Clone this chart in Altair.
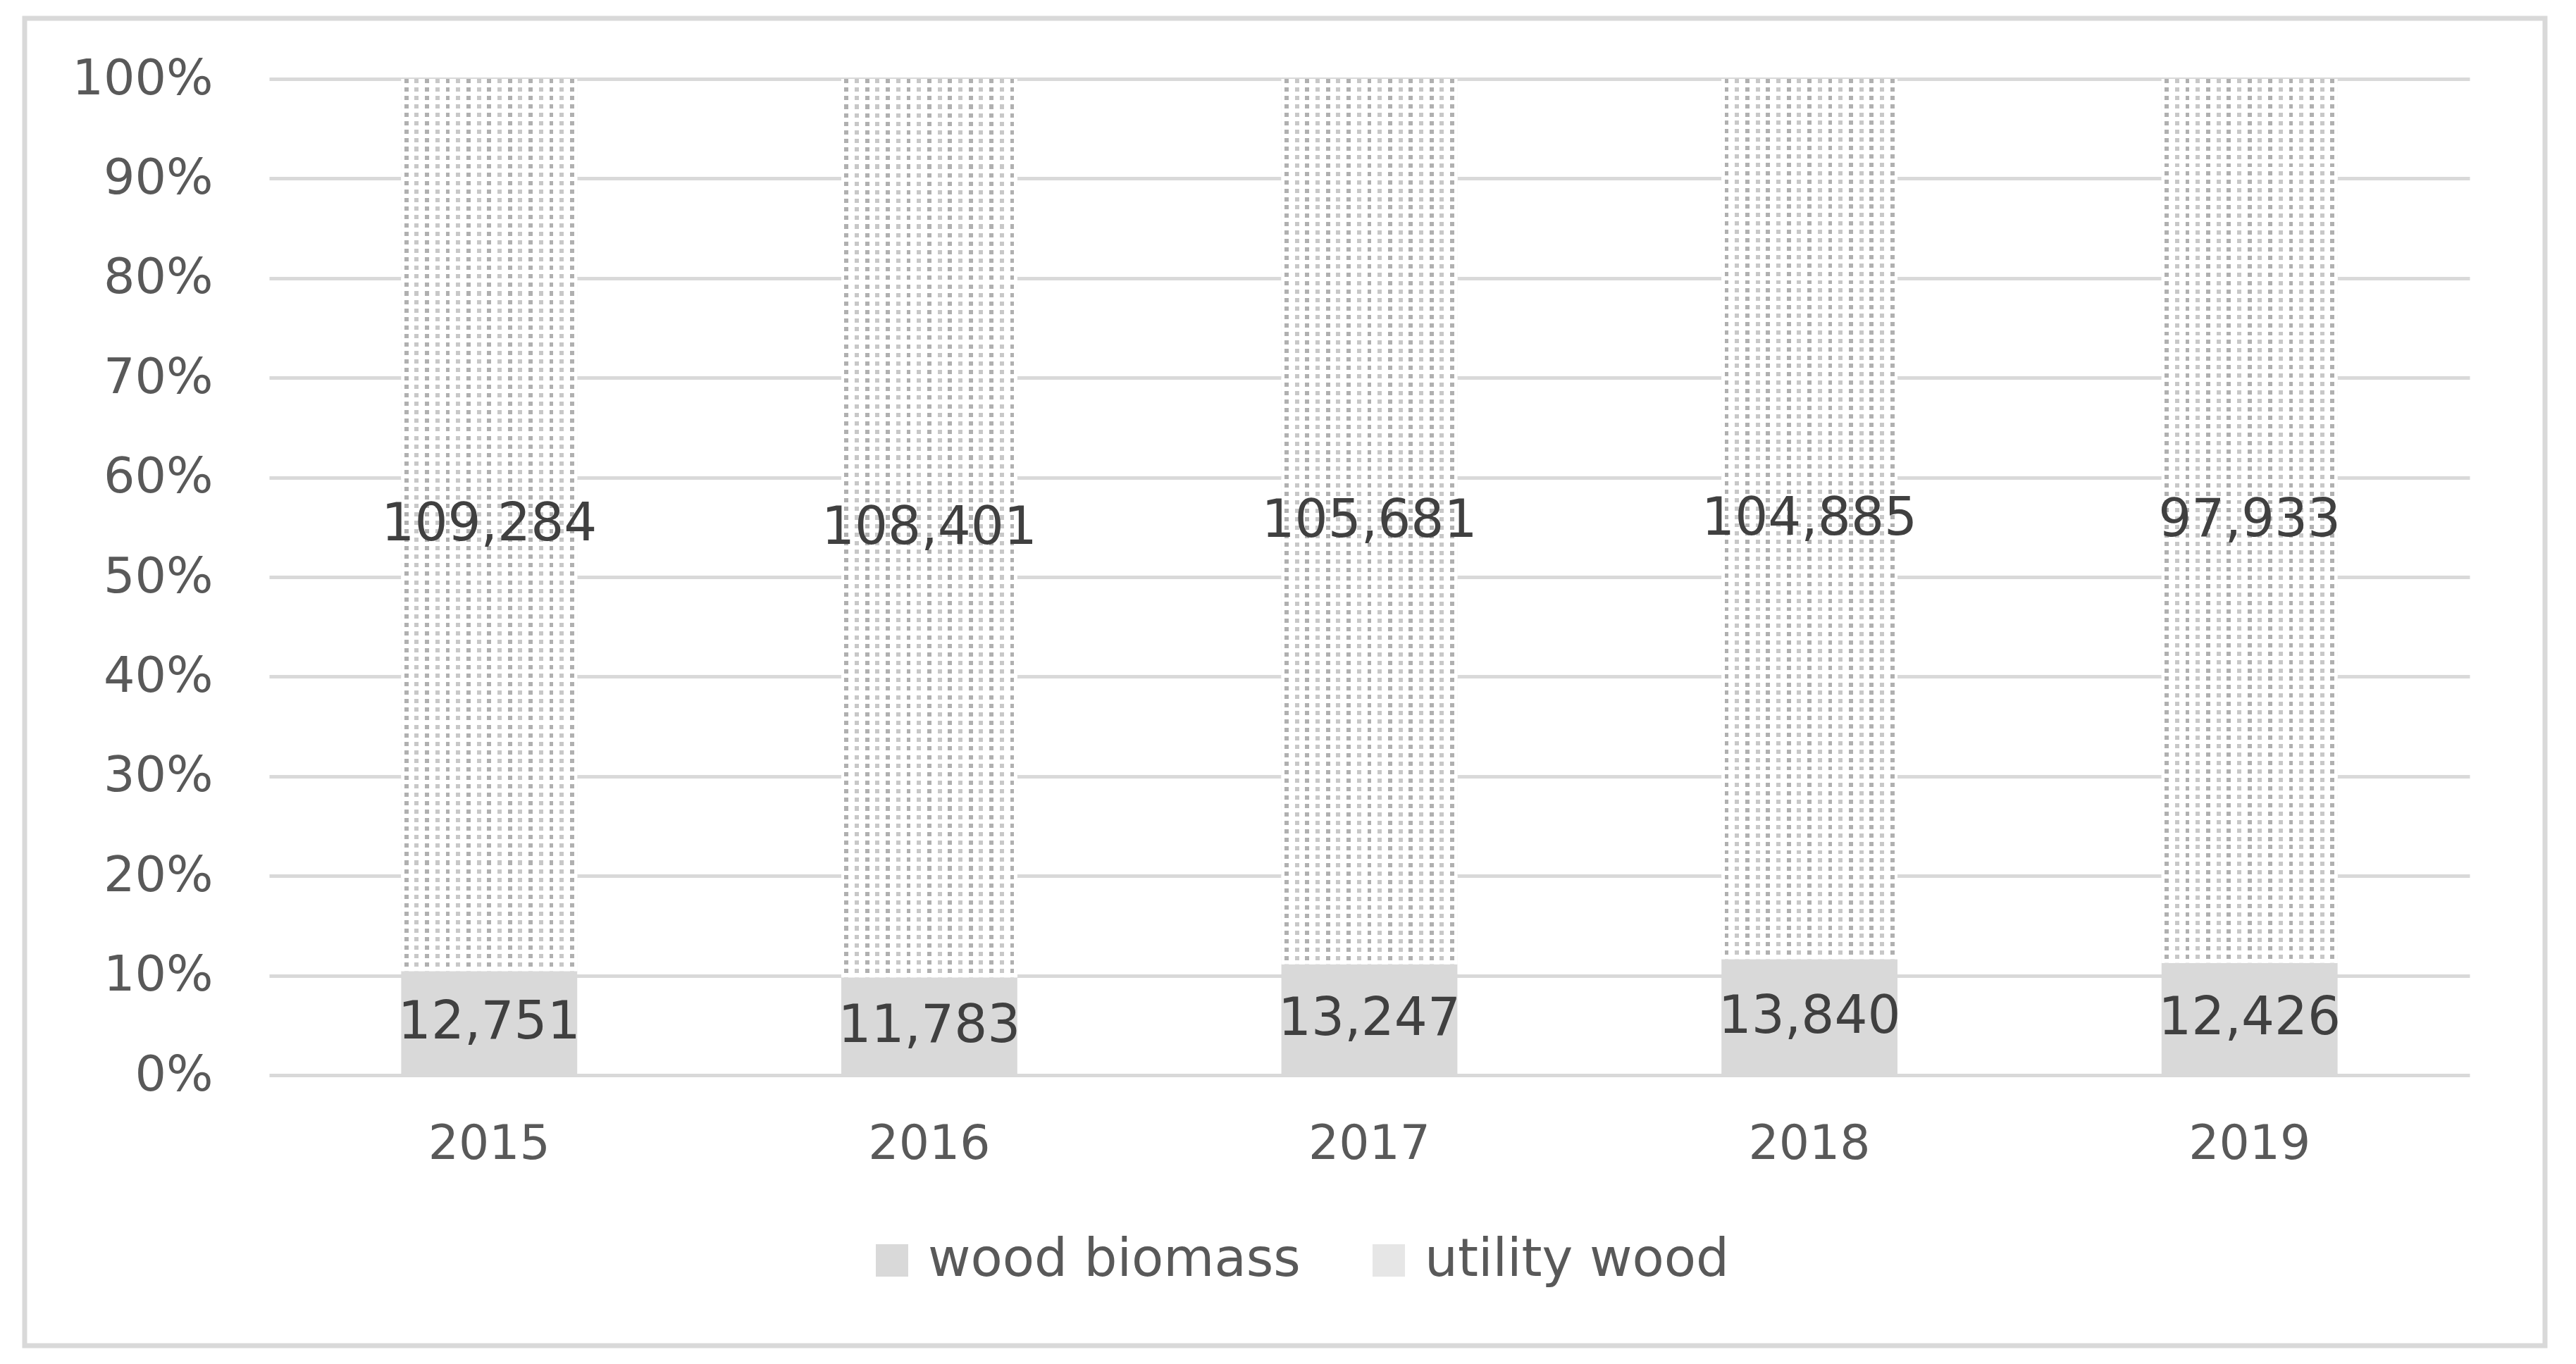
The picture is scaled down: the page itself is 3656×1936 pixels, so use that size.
import altair as alt
import pandas as pd

years = ["2015", "2016", "2017", "2018", "2019"]
series = ["wood biomass", "utility wood"]
wood_biomass = [12751, 11783, 13247, 13840, 12426]
utility_wood = [109284, 108401, 105681, 104885, 97933]
y_ticks = [0, 0.1, 0.2, 0.3, 0.4, 0.5, 0.6, 0.7, 0.8, 0.9, 1.0]

rows = []
for i, yr in enumerate(years):
    rows.append({"year": yr, "series": series[0], "value": wood_biomass[i], "ord": 0})
    rows.append({"year": yr, "series": series[1], "value": utility_wood[i], "ord": 1})
df = pd.DataFrame(rows)

FONT = "DejaVu Sans"
GRID = "#d9d9d9"
LABEL = "#595959"

# dotted pattern approximated by two stripe gradients (style only)
def vstripes(n):
    stops = []
    for k in range(n):
        g = "#b0b0b0" if k % 2 == 0 else "#c8c8c8"
        a = k / n
        stops += [
            {"offset": a, "color": "#ffffff"},
            {"offset": a + 0.30 / n, "color": "#ffffff"},
            {"offset": a + 0.30 / n, "color": g},
            {"offset": a + 0.70 / n, "color": g},
            {"offset": a + 0.70 / n, "color": "#ffffff"},
            {"offset": (k + 1) / n, "color": "#ffffff"},
        ]
    return {"gradient": "linear", "x1": 0, "y1": 0, "x2": 1, "y2": 0, "stops": stops}

def hstripes(n):
    stops = []
    for k in range(n):
        a = k / n
        stops += [
            {"offset": a, "color": "rgba(255,255,255,0)"},
            {"offset": a + 0.5 / n, "color": "rgba(255,255,255,0)"},
            {"offset": a + 0.5 / n, "color": "rgba(255,255,255,1)"},
            {"offset": (k + 1) / n, "color": "rgba(255,255,255,1)"},
        ]
    return {"gradient": "linear", "x1": 0, "y1": 0, "x2": 0, "y2": 1, "stops": stops}

base = (
    alt.Chart(df)
    .transform_joinaggregate(total="sum(value)", groupby=["year"])
    .transform_calculate(frac="datum.value / datum.total")
    .transform_stack(stack="frac", as_=["y0", "y1"], groupby=["year"],
                     sort=[alt.SortField("ord", order="ascending")])
    .transform_calculate(mid="(datum.y0 + datum.y1) / 2")
)

x_enc = alt.X(
    "year:N",
    sort=years,
    scale=alt.Scale(paddingInner=0.6, paddingOuter=0.3),
    axis=alt.Axis(title=None, labelAngle=0, ticks=False, domain=False, grid=False,
                  labelPadding=64, labelFontSize=68, labelFont=FONT, labelColor=LABEL,
                  labelLimit=0),
)
y_enc = alt.Y(
    "y0:Q",
    scale=alt.Scale(domain=[0, 1], nice=False),
    axis=alt.Axis(title=None, format="%", values=y_ticks, ticks=False, domain=False,
                  labelPadding=80, labelFontSize=70, labelFont=FONT, labelColor=LABEL,
                  labelLimit=0, gridColor=GRID, gridWidth=5),
)

bars = base.mark_bar().encode(
    x=x_enc,
    y=y_enc,
    y2="y1:Q",
    color=alt.Color(
        "series:N",
        scale=alt.Scale(domain=series, range=["#d9d9d9", "#e6e6e6"]),
        legend=alt.Legend(
            title=None, orient="none", legendX=847, legendY=1640, direction="horizontal",
            symbolType="square", symbolSize=2116, symbolStrokeWidth=0,
            labelFontSize=74, labelFont=FONT, labelColor=LABEL, labelOffset=14,
            labelLimit=0, columnPadding=88, padding=0,
        ),
    ),
)

overlay_v = base.transform_filter(alt.datum.series == "utility wood").mark_bar(
    fill=vstripes(17)
).encode(x="year:N", y="y0:Q", y2="y1:Q")

overlay_h = base.transform_filter(alt.datum.series == "utility wood").mark_bar(
    fill=hstripes(105)
).encode(x="year:N", y="y0:Q", y2="y1:Q")

labels = base.mark_text(font=FONT, fontSize=74, color="#404040", baseline="middle").encode(
    x="year:N",
    y="mid:Q",
    text=alt.Text("value:Q", format=","),
)

frame = alt.Chart(pd.DataFrame({"a": [0]})).mark_rect(
    filled=False, stroke=GRID, strokeWidth=7
).encode(x=alt.value(-347), x2=alt.value(3230), y=alt.value(-86), y2=alt.value(1798))

chart = (
    alt.layer(frame, bars, overlay_v, overlay_h, labels)
    .properties(
        width=3123,
        height=1414,
        autosize=alt.AutoSizeParams(type="none"),
        padding={"left": 374, "top": 104, "right": 130, "bottom": 390},
        background="white",
    )
    .configure_view(strokeWidth=0)
)

chart.save("out.html", embed_options={"renderer": "svg", "actions": False})
